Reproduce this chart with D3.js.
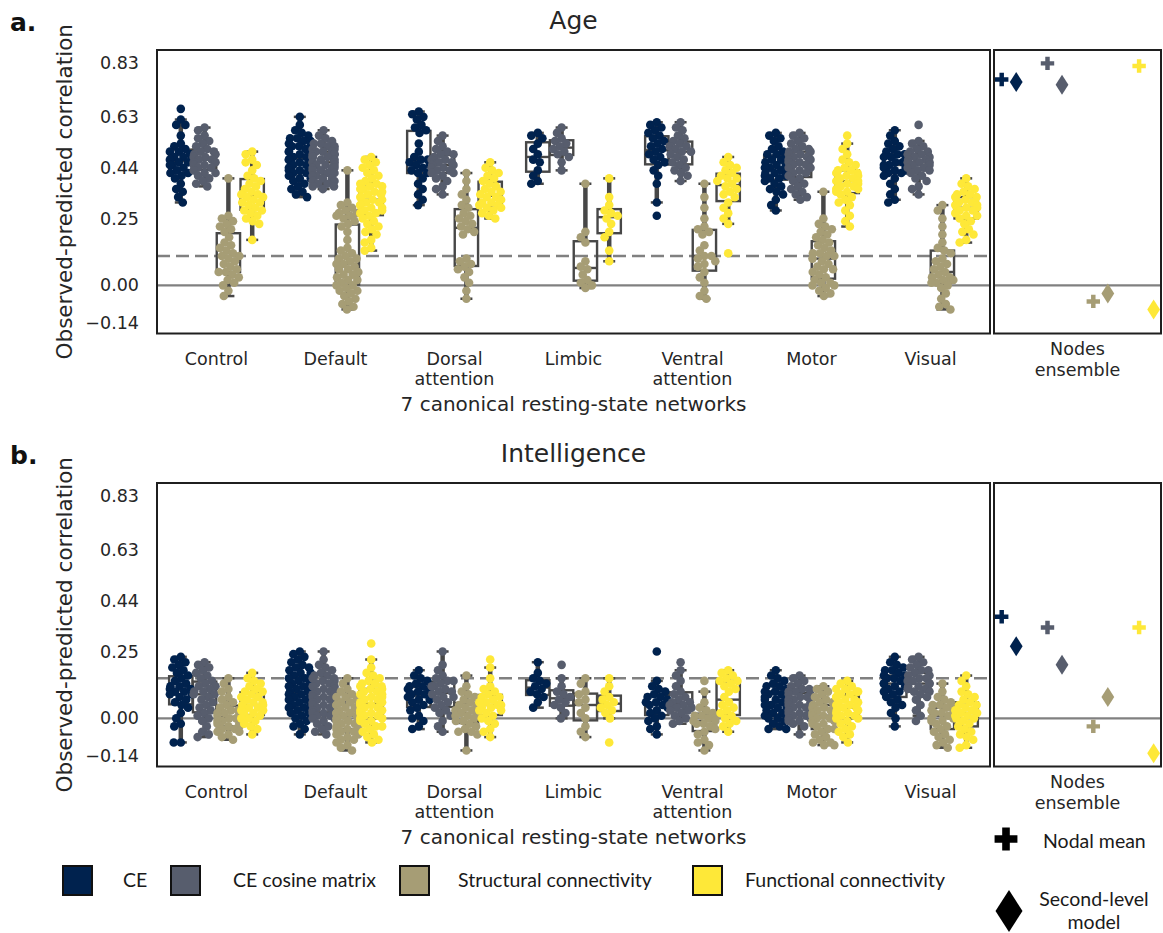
<!DOCTYPE html>
<html>
<head>
<meta charset="utf-8">
<script src="https://cdn.jsdelivr.net/npm/d3@7"></script>
<style>
  body { margin: 0; background: #fff; }
  svg { display: block; }
</style>
</head>
<body>
<svg id="chart" width="1163" height="933"></svg>
<script>
// ---------------------------------------------------------------------------
// Categories, feature sets and axis ticks
// ---------------------------------------------------------------------------
const networks = ["Control", "Default", "Dorsal attention", "Limbic", "Ventral attention", "Motor", "Visual"];
const networkLabelLines = [["Control"], ["Default"], ["Dorsal", "attention"], ["Limbic"], ["Ventral", "attention"], ["Motor"], ["Visual"]];
const features = ["CE", "CE cosine matrix", "Structural connectivity", "Functional connectivity"];
const featureColors = ["#00224e", "#575d6d", "#a69d75", "#fee838"];
const yTicks = [-0.14, 0.00, 0.25, 0.44, 0.63, 0.83];
const panelTitles = ["Age", "Intelligence"];
const panelLetters = ["a.", "b."];
const significanceLevels = [0.11, 0.15];

// ---------------------------------------------------------------------------
// Node-level observed-predicted correlations, Age (order: CE, cosine, SC, FC)
// ---------------------------------------------------------------------------
const ageControl = [
  [0.66, 0.62, 0.60, 0.60, 0.56, 0.53, 0.52, 0.51, 0.50, 0.50, 0.49, 0.48, 0.48, 0.47, 0.47, 0.46, 0.46, 0.45, 0.45, 0.44, 0.43, 0.42, 0.42, 0.41, 0.40, 0.38, 0.36, 0.35, 0.33, 0.31],
  [0.59, 0.58, 0.56, 0.55, 0.54, 0.53, 0.52, 0.51, 0.50, 0.50, 0.49, 0.49, 0.48, 0.48, 0.47, 0.47, 0.46, 0.46, 0.45, 0.45, 0.44, 0.44, 0.43, 0.42, 0.42, 0.41, 0.40, 0.39, 0.38, 0.37],
  [0.40, 0.26, 0.25, 0.24, 0.23, 0.22, 0.21, 0.20, 0.18, 0.16, 0.15, 0.14, 0.13, 0.12, 0.11, 0.11, 0.10, 0.09, 0.08, 0.07, 0.06, 0.05, 0.05, 0.04, 0.03, 0.02, 0.01, 0.00, -0.02, -0.04],
  [0.50, 0.49, 0.47, 0.46, 0.45, 0.43, 0.41, 0.40, 0.39, 0.38, 0.37, 0.36, 0.35, 0.34, 0.34, 0.33, 0.33, 0.32, 0.31, 0.31, 0.30, 0.29, 0.28, 0.28, 0.27, 0.26, 0.25, 0.24, 0.23, 0.17]
];
const ageDefault = [
  [0.63, 0.60, 0.58, 0.57, 0.56, 0.55, 0.55, 0.54, 0.54, 0.53, 0.53, 0.52, 0.52, 0.51, 0.51, 0.50, 0.50, 0.50, 0.49, 0.49, 0.48, 0.48, 0.48, 0.47, 0.47, 0.46, 0.46, 0.46, 0.45, 0.45, 0.44, 0.44, 0.43, 0.43, 0.42, 0.42, 0.41, 0.40, 0.40, 0.39, 0.38, 0.37, 0.36, 0.35, 0.34, 0.33],
  [0.58, 0.56, 0.55, 0.54, 0.53, 0.53, 0.52, 0.52, 0.51, 0.51, 0.50, 0.50, 0.50, 0.49, 0.49, 0.49, 0.48, 0.48, 0.48, 0.47, 0.47, 0.47, 0.46, 0.46, 0.46, 0.45, 0.45, 0.45, 0.44, 0.44, 0.44, 0.43, 0.43, 0.42, 0.42, 0.41, 0.41, 0.40, 0.40, 0.39, 0.39, 0.38, 0.38, 0.37, 0.37, 0.36],
  [0.43, 0.31, 0.30, 0.29, 0.28, 0.27, 0.27, 0.26, 0.26, 0.25, 0.24, 0.23, 0.22, 0.20, 0.17, 0.14, 0.13, 0.12, 0.11, 0.10, 0.10, 0.09, 0.08, 0.08, 0.07, 0.06, 0.06, 0.05, 0.04, 0.04, 0.03, 0.02, 0.02, 0.01, 0.00, 0.00, -0.01, -0.02, -0.02, -0.03, -0.04, -0.05, -0.06, -0.07, -0.08, -0.09],
  [0.48, 0.47, 0.46, 0.45, 0.44, 0.43, 0.42, 0.41, 0.40, 0.39, 0.38, 0.38, 0.37, 0.37, 0.36, 0.36, 0.35, 0.35, 0.34, 0.34, 0.33, 0.33, 0.32, 0.32, 0.31, 0.31, 0.30, 0.30, 0.29, 0.29, 0.28, 0.28, 0.27, 0.27, 0.26, 0.25, 0.24, 0.23, 0.22, 0.21, 0.20, 0.19, 0.17, 0.16, 0.14, 0.13]
];
const ageDorsal = [
  [0.65, 0.64, 0.63, 0.62, 0.60, 0.59, 0.58, 0.57, 0.53, 0.50, 0.48, 0.47, 0.47, 0.46, 0.45, 0.45, 0.44, 0.43, 0.42, 0.42, 0.40, 0.38, 0.36, 0.34, 0.32, 0.30],
  [0.56, 0.54, 0.52, 0.51, 0.50, 0.49, 0.49, 0.48, 0.47, 0.47, 0.46, 0.46, 0.45, 0.45, 0.44, 0.44, 0.43, 0.43, 0.42, 0.42, 0.41, 0.40, 0.39, 0.37, 0.36, 0.34],
  [0.42, 0.39, 0.36, 0.34, 0.32, 0.30, 0.29, 0.27, 0.26, 0.25, 0.24, 0.23, 0.22, 0.21, 0.20, 0.19, 0.10, 0.09, 0.08, 0.07, 0.06, 0.05, 0.03, 0.01, -0.02, -0.05],
  [0.46, 0.44, 0.43, 0.42, 0.41, 0.40, 0.39, 0.38, 0.37, 0.36, 0.35, 0.35, 0.34, 0.33, 0.33, 0.32, 0.31, 0.31, 0.30, 0.30, 0.29, 0.29, 0.28, 0.27, 0.26, 0.25]
];
const ageLimbic = [
  [0.57, 0.56, 0.55, 0.53, 0.51, 0.49, 0.47, 0.46, 0.43, 0.41, 0.39, 0.38],
  [0.59, 0.57, 0.55, 0.54, 0.53, 0.52, 0.51, 0.50, 0.49, 0.48, 0.46, 0.43],
  [0.38, 0.20, 0.18, 0.16, 0.09, 0.07, 0.06, 0.04, 0.02, 0.01, 0.00, -0.01],
  [0.40, 0.33, 0.30, 0.28, 0.27, 0.26, 0.25, 0.23, 0.20, 0.18, 0.13, 0.09]
];
const ageVentral = [
  [0.61, 0.60, 0.59, 0.58, 0.57, 0.56, 0.55, 0.54, 0.53, 0.52, 0.51, 0.50, 0.49, 0.48, 0.47, 0.46, 0.45, 0.43, 0.41, 0.38, 0.31, 0.26],
  [0.61, 0.59, 0.58, 0.56, 0.55, 0.54, 0.53, 0.52, 0.52, 0.51, 0.50, 0.50, 0.49, 0.48, 0.47, 0.46, 0.45, 0.44, 0.43, 0.42, 0.41, 0.39],
  [0.38, 0.33, 0.29, 0.25, 0.22, 0.21, 0.20, 0.19, 0.15, 0.13, 0.11, 0.11, 0.10, 0.09, 0.08, 0.07, 0.05, 0.03, 0.01, -0.02, -0.04, -0.05],
  [0.48, 0.46, 0.45, 0.44, 0.43, 0.42, 0.41, 0.40, 0.40, 0.39, 0.38, 0.37, 0.36, 0.35, 0.34, 0.33, 0.31, 0.29, 0.27, 0.25, 0.23, 0.12]
];
const ageMotor = [
  [0.57, 0.56, 0.55, 0.54, 0.52, 0.51, 0.50, 0.49, 0.49, 0.48, 0.47, 0.47, 0.46, 0.46, 0.45, 0.45, 0.44, 0.44, 0.43, 0.43, 0.42, 0.42, 0.41, 0.41, 0.40, 0.40, 0.39, 0.38, 0.37, 0.36, 0.35, 0.34, 0.32, 0.30, 0.28],
  [0.57, 0.56, 0.55, 0.54, 0.53, 0.52, 0.51, 0.51, 0.50, 0.50, 0.49, 0.49, 0.48, 0.48, 0.47, 0.47, 0.46, 0.46, 0.45, 0.45, 0.44, 0.44, 0.43, 0.42, 0.42, 0.41, 0.40, 0.39, 0.38, 0.37, 0.36, 0.35, 0.34, 0.33, 0.32],
  [0.35, 0.25, 0.23, 0.22, 0.21, 0.20, 0.19, 0.18, 0.17, 0.16, 0.15, 0.14, 0.13, 0.12, 0.12, 0.11, 0.11, 0.10, 0.09, 0.08, 0.07, 0.06, 0.06, 0.05, 0.04, 0.03, 0.02, 0.01, 0.01, 0.00, 0.00, -0.01, -0.02, -0.03, -0.04],
  [0.56, 0.53, 0.51, 0.49, 0.47, 0.46, 0.45, 0.44, 0.43, 0.43, 0.42, 0.42, 0.41, 0.41, 0.40, 0.40, 0.39, 0.39, 0.38, 0.38, 0.37, 0.37, 0.36, 0.36, 0.35, 0.35, 0.34, 0.33, 0.32, 0.31, 0.30, 0.28, 0.26, 0.24, 0.22]
];
const ageVisual = [
  [0.58, 0.56, 0.54, 0.53, 0.52, 0.51, 0.50, 0.49, 0.49, 0.48, 0.48, 0.47, 0.46, 0.46, 0.45, 0.45, 0.44, 0.44, 0.43, 0.43, 0.42, 0.42, 0.41, 0.40, 0.38, 0.36, 0.34, 0.32, 0.31],
  [0.60, 0.54, 0.53, 0.52, 0.51, 0.50, 0.50, 0.49, 0.49, 0.48, 0.48, 0.47, 0.47, 0.46, 0.46, 0.46, 0.45, 0.45, 0.44, 0.44, 0.43, 0.43, 0.42, 0.41, 0.40, 0.39, 0.37, 0.36, 0.34],
  [0.30, 0.28, 0.25, 0.22, 0.19, 0.16, 0.14, 0.13, 0.12, 0.10, 0.09, 0.08, 0.07, 0.06, 0.05, 0.04, 0.03, 0.03, 0.02, 0.02, 0.01, 0.01, 0.00, -0.01, -0.03, -0.05, -0.07, -0.08, -0.09],
  [0.40, 0.38, 0.37, 0.36, 0.35, 0.34, 0.34, 0.33, 0.33, 0.32, 0.31, 0.31, 0.30, 0.30, 0.29, 0.29, 0.28, 0.28, 0.27, 0.26, 0.26, 0.25, 0.24, 0.23, 0.21, 0.20, 0.19, 0.17, 0.16]
];

// ---------------------------------------------------------------------------
// Node-level observed-predicted correlations, Intelligence
// ---------------------------------------------------------------------------
const iqControl = [
  [0.23, 0.22, 0.21, 0.20, 0.19, 0.18, 0.17, 0.16, 0.15, 0.14, 0.13, 0.12, 0.12, 0.11, 0.11, 0.10, 0.10, 0.09, 0.09, 0.08, 0.07, 0.06, 0.05, 0.04, 0.02, 0.00, -0.02, -0.03, -0.09, -0.09],
  [0.21, 0.20, 0.19, 0.18, 0.17, 0.16, 0.15, 0.14, 0.13, 0.12, 0.12, 0.11, 0.10, 0.10, 0.09, 0.09, 0.08, 0.07, 0.06, 0.05, 0.04, 0.03, 0.02, 0.01, 0.00, -0.01, -0.03, -0.05, -0.06, -0.07],
  [0.15, 0.13, 0.11, 0.10, 0.08, 0.07, 0.06, 0.05, 0.04, 0.03, 0.03, 0.02, 0.02, 0.01, 0.01, 0.00, 0.00, -0.01, -0.01, -0.02, -0.02, -0.03, -0.03, -0.04, -0.04, -0.05, -0.05, -0.06, -0.07, -0.08],
  [0.17, 0.15, 0.14, 0.13, 0.12, 0.11, 0.10, 0.10, 0.09, 0.08, 0.08, 0.07, 0.06, 0.06, 0.05, 0.05, 0.04, 0.04, 0.03, 0.03, 0.02, 0.02, 0.01, 0.00, 0.00, -0.01, -0.02, -0.03, -0.04, -0.06]
];
const iqDefault = [
  [0.25, 0.24, 0.23, 0.22, 0.21, 0.20, 0.19, 0.19, 0.18, 0.17, 0.17, 0.16, 0.15, 0.15, 0.14, 0.13, 0.13, 0.12, 0.12, 0.11, 0.11, 0.10, 0.10, 0.09, 0.09, 0.08, 0.08, 0.07, 0.07, 0.06, 0.06, 0.05, 0.05, 0.04, 0.04, 0.03, 0.03, 0.02, 0.02, 0.01, 0.00, -0.01, -0.02, -0.03, -0.04, -0.06],
  [0.25, 0.22, 0.20, 0.19, 0.18, 0.17, 0.16, 0.16, 0.15, 0.15, 0.14, 0.14, 0.13, 0.13, 0.12, 0.12, 0.11, 0.11, 0.10, 0.10, 0.09, 0.09, 0.08, 0.08, 0.07, 0.07, 0.06, 0.06, 0.05, 0.05, 0.04, 0.04, 0.03, 0.03, 0.02, 0.02, 0.01, 0.01, 0.00, 0.00, -0.01, -0.02, -0.03, -0.04, -0.05, -0.06],
  [0.15, 0.13, 0.11, 0.10, 0.09, 0.08, 0.08, 0.07, 0.07, 0.06, 0.06, 0.05, 0.05, 0.04, 0.04, 0.03, 0.03, 0.03, 0.02, 0.02, 0.02, 0.01, 0.01, 0.01, 0.00, 0.00, 0.00, -0.01, -0.01, -0.02, -0.02, -0.03, -0.03, -0.04, -0.04, -0.05, -0.05, -0.06, -0.06, -0.07, -0.08, -0.08, -0.09, -0.10, -0.11, -0.12],
  [0.28, 0.22, 0.19, 0.17, 0.16, 0.15, 0.14, 0.13, 0.13, 0.12, 0.12, 0.11, 0.11, 0.10, 0.10, 0.09, 0.09, 0.08, 0.08, 0.07, 0.07, 0.06, 0.06, 0.05, 0.05, 0.04, 0.04, 0.03, 0.03, 0.02, 0.02, 0.01, 0.01, 0.00, 0.00, -0.01, -0.01, -0.02, -0.03, -0.03, -0.04, -0.05, -0.06, -0.07, -0.08, -0.09]
];
const iqDorsal = [
  [0.18, 0.16, 0.15, 0.14, 0.13, 0.12, 0.12, 0.11, 0.11, 0.10, 0.10, 0.09, 0.09, 0.08, 0.08, 0.07, 0.07, 0.06, 0.05, 0.04, 0.03, 0.01, 0.00, -0.01, -0.03, -0.04],
  [0.25, 0.20, 0.18, 0.16, 0.15, 0.14, 0.14, 0.13, 0.12, 0.12, 0.11, 0.10, 0.10, 0.09, 0.08, 0.08, 0.07, 0.06, 0.05, 0.04, 0.03, 0.02, 0.01, -0.01, -0.03, -0.05],
  [0.16, 0.12, 0.10, 0.09, 0.08, 0.07, 0.06, 0.05, 0.05, 0.04, 0.03, 0.03, 0.02, 0.02, 0.01, 0.01, 0.00, -0.01, -0.01, -0.02, -0.03, -0.04, -0.05, -0.05, -0.06, -0.12],
  [0.22, 0.19, 0.15, 0.12, 0.11, 0.10, 0.09, 0.08, 0.08, 0.07, 0.06, 0.06, 0.05, 0.05, 0.04, 0.04, 0.03, 0.03, 0.02, 0.01, 0.00, -0.01, -0.02, -0.04, -0.05, -0.07]
];
const iqLimbic = [
  [0.21, 0.17, 0.15, 0.14, 0.13, 0.12, 0.11, 0.10, 0.09, 0.08, 0.06, 0.04],
  [0.20, 0.15, 0.12, 0.10, 0.09, 0.08, 0.07, 0.06, 0.05, 0.04, 0.02, 0.00],
  [0.15, 0.13, 0.10, 0.09, 0.07, 0.06, 0.04, 0.02, 0.00, -0.03, -0.05, -0.07],
  [0.15, 0.12, 0.10, 0.08, 0.07, 0.06, 0.05, 0.04, 0.03, 0.02, 0.00, -0.09]
];
const iqVentral = [
  [0.25, 0.14, 0.12, 0.11, 0.10, 0.09, 0.08, 0.08, 0.07, 0.06, 0.06, 0.05, 0.05, 0.04, 0.03, 0.02, 0.01, 0.00, -0.01, -0.03, -0.04, -0.06],
  [0.21, 0.18, 0.16, 0.14, 0.12, 0.10, 0.09, 0.08, 0.07, 0.06, 0.06, 0.05, 0.05, 0.04, 0.04, 0.03, 0.03, 0.02, 0.01, 0.00, -0.01, -0.02],
  [0.14, 0.10, 0.06, 0.04, 0.03, 0.02, 0.01, 0.01, 0.00, 0.00, -0.01, -0.01, -0.02, -0.02, -0.03, -0.04, -0.05, -0.06, -0.08, -0.09, -0.10, -0.12],
  [0.18, 0.17, 0.16, 0.15, 0.14, 0.14, 0.13, 0.12, 0.11, 0.10, 0.08, 0.06, 0.05, 0.04, 0.03, 0.02, 0.01, 0.00, -0.01, -0.02, -0.03, -0.05]
];
const iqMotor = [
  [0.18, 0.16, 0.15, 0.14, 0.13, 0.12, 0.12, 0.11, 0.10, 0.10, 0.09, 0.09, 0.08, 0.08, 0.07, 0.07, 0.06, 0.06, 0.05, 0.05, 0.04, 0.04, 0.03, 0.03, 0.02, 0.02, 0.01, 0.01, 0.00, 0.00, -0.01, -0.02, -0.03, -0.04, -0.04],
  [0.16, 0.15, 0.14, 0.13, 0.12, 0.11, 0.11, 0.10, 0.10, 0.09, 0.09, 0.08, 0.08, 0.07, 0.07, 0.06, 0.06, 0.05, 0.05, 0.05, 0.04, 0.04, 0.03, 0.03, 0.02, 0.02, 0.01, 0.01, 0.00, 0.00, -0.01, -0.01, -0.02, -0.03, -0.06],
  [0.12, 0.11, 0.10, 0.09, 0.08, 0.07, 0.06, 0.06, 0.05, 0.05, 0.04, 0.04, 0.03, 0.03, 0.02, 0.02, 0.01, 0.01, 0.00, 0.00, -0.01, -0.01, -0.02, -0.02, -0.03, -0.04, -0.04, -0.05, -0.06, -0.07, -0.08, -0.09, -0.09, -0.10, -0.10],
  [0.14, 0.13, 0.12, 0.11, 0.11, 0.10, 0.10, 0.09, 0.09, 0.08, 0.08, 0.07, 0.07, 0.06, 0.06, 0.05, 0.05, 0.04, 0.04, 0.03, 0.03, 0.02, 0.02, 0.01, 0.01, 0.00, 0.00, -0.01, -0.02, -0.03, -0.04, -0.05, -0.06, -0.07, -0.09]
];
const iqVisual = [
  [0.23, 0.21, 0.20, 0.19, 0.18, 0.18, 0.17, 0.16, 0.16, 0.15, 0.15, 0.14, 0.14, 0.13, 0.13, 0.12, 0.12, 0.11, 0.10, 0.10, 0.09, 0.08, 0.07, 0.06, 0.05, 0.04, 0.02, 0.00, -0.03],
  [0.23, 0.22, 0.21, 0.20, 0.19, 0.18, 0.18, 0.17, 0.16, 0.16, 0.15, 0.15, 0.14, 0.14, 0.13, 0.13, 0.12, 0.12, 0.11, 0.11, 0.10, 0.10, 0.09, 0.08, 0.07, 0.05, 0.03, 0.01, -0.01],
  [0.13, 0.10, 0.08, 0.07, 0.06, 0.05, 0.05, 0.04, 0.04, 0.03, 0.03, 0.02, 0.02, 0.01, 0.01, 0.00, 0.00, -0.01, -0.01, -0.02, -0.03, -0.04, -0.05, -0.06, -0.07, -0.08, -0.09, -0.10, -0.11],
  [0.16, 0.14, 0.12, 0.10, 0.09, 0.08, 0.07, 0.06, 0.05, 0.05, 0.04, 0.03, 0.03, 0.02, 0.02, 0.01, 0.01, 0.00, 0.00, -0.01, -0.02, -0.03, -0.04, -0.05, -0.06, -0.07, -0.08, -0.10, -0.11]
];

// ---------------------------------------------------------------------------
// Whole-brain ensembles (order: CE, cosine, SC, FC)
// ---------------------------------------------------------------------------
const ageNodalMean = [0.77, 0.83, -0.06, 0.82];
const ageSecondLevel = [0.76, 0.75, -0.03, -0.09];
const iqNodalMean = [0.38, 0.34, -0.03, 0.34];
const iqSecondLevel = [0.27, 0.20, 0.08, -0.13];

const ageGroups = [ageControl, ageDefault, ageDorsal, ageLimbic, ageVentral, ageMotor, ageVisual];
const iqGroups = [iqControl, iqDefault, iqDorsal, iqLimbic, iqVentral, iqMotor, iqVisual];
const panelGroups = [ageGroups, iqGroups];
const panelNodal = [ageNodalMean, iqNodalMean];
const panelSecond = [ageSecondLevel, iqSecondLevel];

// ---------------------------------------------------------------------------
// Layout
// ---------------------------------------------------------------------------
const svg = d3.select("#chart");
const mainLeft = 157, mainRight = 990;
const ensLeft = 994, ensRight = 1161;
const panelTop = [50, 483];
const panelHeight = 283.5;
const yDomain = [-0.18, 0.88];
const tickFont = "DejaVu Sans, Verdana, sans-serif";
const textColor = "#262626";
const dotRadius = 4.3;

const xNet = d3.scaleBand().domain(networks).range([mainLeft, mainRight]).paddingInner(0).paddingOuter(0);
const xHue = d3.scaleBand().domain(features).range([0, xNet.bandwidth() * 0.8]);
const xEns = d3.scaleLinear().domain([-0.168, 3.478]).range([ensLeft, ensRight]);

// Beeswarm: place each point at the free slot nearest to the centre line
function swarmOffsets(ys, r, half) {
  const order = d3.range(ys.length).sort((a, b) => ys[a] - ys[b]);
  const placed = [];
  const off = new Array(ys.length);
  const d = 2 * r;
  for (const i of order) {
    const y = ys[i];
    const near = placed.filter(p => Math.abs(p.y - y) < d);
    const cands = [0];
    for (const p of near) {
      const dx = Math.sqrt(d * d - (p.y - y) ** 2);
      cands.push(p.x + dx, p.x - dx);
    }
    cands.sort((a, b) => Math.abs(a) - Math.abs(b) || a - b);
    const x = cands.find(c => near.every(p => (p.x - c) ** 2 + (p.y - y) ** 2 >= d * d - 1e-6));
    placed.push({ x, y });
    off[i] = Math.max(-half, Math.min(half, x));
  }
  return off;
}

function boxStats(values) {
  const s = values.slice().sort(d3.ascending);
  const q1 = d3.quantile(s, 0.25), med = d3.quantile(s, 0.5), q3 = d3.quantile(s, 0.75);
  const iqr = q3 - q1;
  const lo = d3.min(s.filter(v => v >= q1 - 1.5 * iqr));
  const hi = d3.max(s.filter(v => v <= q3 + 1.5 * iqr));
  return { q1, med, q3, lo, hi };
}

panelGroups.forEach((groups, p) => {
  const top = panelTop[p];
  const y = d3.scaleLinear().domain(yDomain).range([top + panelHeight, top]);
  const g = svg.append("g");

  // panel letter and title
  g.append("text").attr("x", 10).attr("y", top - 19)
    .attr("font-family", "DejaVu Sans, sans-serif").attr("font-weight", 900)
    .attr("font-size", 25).attr("fill", "#111").text(panelLetters[p]);
  g.append("text").attr("x", (mainLeft + mainRight) / 2).attr("y", top - 21)
    .attr("text-anchor", "middle").attr("font-family", tickFont)
    .attr("font-size", 25).attr("fill", textColor).text(panelTitles[p]);

  // reference lines
  g.append("line").attr("x1", mainLeft).attr("x2", mainRight)
    .attr("y1", y(significanceLevels[p])).attr("y2", y(significanceLevels[p]))
    .attr("stroke", "#808080").attr("stroke-width", 2.4).attr("stroke-dasharray", "13,6");
  [[mainLeft, mainRight], [ensLeft, ensRight]].forEach(([a, b]) => {
    g.append("line").attr("x1", a).attr("x2", b).attr("y1", y(0)).attr("y2", y(0))
      .attr("stroke", "#808080").attr("stroke-width", 2.2);
  });

  // y axis (labels only)
  const yAxis = d3.axisLeft(y).tickValues(yTicks).tickSize(0).tickPadding(0)
    .tickFormat(d => d3.format(".2f")(d).replace("-", "\u2212"));
  const ax = g.append("g").attr("transform", `translate(${mainLeft - 18},0)`).call(yAxis);
  ax.select(".domain").remove();
  ax.selectAll("text").attr("font-family", tickFont).attr("font-size", 17.5).attr("fill", textColor);

  g.append("text")
    .attr("transform", `translate(72,${top + panelHeight / 2}) rotate(-90)`)
    .attr("text-anchor", "middle").attr("font-family", tickFont).attr("font-size", 21.5)
    .attr("fill", textColor).text("Observed-predicted correlation");

  // boxes, whiskers, then the swarm of node values
  const boxW = xHue.bandwidth() * 0.98;
  const boxLayer = g.append("g");
  const dotLayer = g.append("g");
  groups.forEach((featVals, n) => {
    featVals.forEach((vals, h) => {
      const cx = xNet(networks[n]) + xNet.bandwidth() * 0.1 + xHue(features[h]) + xHue.bandwidth() / 2;
      const st = boxStats(vals);
      const bg = boxLayer.append("g");
      bg.append("line").attr("x1", cx).attr("x2", cx).attr("y1", y(st.hi)).attr("y2", y(st.q3))
        .attr("stroke", "#474747").attr("stroke-width", 4.5);
      bg.append("line").attr("x1", cx).attr("x2", cx).attr("y1", y(st.q1)).attr("y2", y(st.lo))
        .attr("stroke", "#474747").attr("stroke-width", 4.5);
      [st.hi, st.lo].forEach(v => bg.append("line").attr("x1", cx - 6).attr("x2", cx + 6)
        .attr("y1", y(v)).attr("y2", y(v)).attr("stroke", "#474747").attr("stroke-width", 2.5));
      bg.append("rect").attr("x", cx - boxW / 2).attr("width", boxW)
        .attr("y", y(st.q3)).attr("height", Math.max(0, y(st.q1) - y(st.q3)))
        .attr("fill", "none").attr("stroke", "#474747").attr("stroke-width", 2.4);
      bg.append("line").attr("x1", cx - boxW / 2).attr("x2", cx + boxW / 2)
        .attr("y1", y(st.med)).attr("y2", y(st.med)).attr("stroke", "#474747").attr("stroke-width", 2.4);

      const ys = vals.map(v => y(v));
      const offs = swarmOffsets(ys, dotRadius * 0.82, xHue.bandwidth() / 2 - 1);
      dotLayer.selectAll(null).data(vals).join("circle")
        .attr("cx", (d, i) => cx + offs[i]).attr("cy", d => y(d))
        .attr("r", dotRadius).attr("fill", featureColors[h]);
    });
  });

  // network labels
  networkLabelLines.forEach((lines, n) => {
    const t = g.append("text").attr("x", xNet(networks[n]) + xNet.bandwidth() / 2)
      .attr("y", top + 315).attr("text-anchor", "middle")
      .attr("font-family", tickFont).attr("font-size", 17.5).attr("fill", textColor);
    lines.forEach((ln, k) => t.append("tspan").attr("x", xNet(networks[n]) + xNet.bandwidth() / 2)
      .attr("dy", k === 0 ? 0 : 20).text(ln));
  });
  g.append("text").attr("x", (mainLeft + mainRight) / 2).attr("y", top + 361)
    .attr("text-anchor", "middle").attr("font-family", tickFont).attr("font-size", 20)
    .attr("fill", textColor).text("7 canonical resting-state networks");
  const ne = g.append("text").attr("x", (ensLeft + ensRight) / 2).attr("y", top + 305)
    .attr("text-anchor", "middle").attr("font-family", tickFont).attr("font-size", 17.5)
    .attr("fill", textColor);
  ne.append("tspan").attr("x", (ensLeft + ensRight) / 2).text("Nodes");
  ne.append("tspan").attr("x", (ensLeft + ensRight) / 2).attr("dy", 21).text("ensemble");

  // ensemble markers
  const crossPath = d3.symbol().type(d3.symbolCross).size(100)();
  const diamondPath = `M0,-10L6.4,0L0,10L-6.4,0Z`;
  panelNodal[p].forEach((v, h) => {
    g.append("path").attr("d", crossPath)
      .attr("transform", `translate(${xEns(h)},${y(v)})`).attr("fill", featureColors[h]);
  });
  panelSecond[p].forEach((v, h) => {
    g.append("path").attr("d", diamondPath)
      .attr("transform", `translate(${xEns(h + 0.317)},${y(v)})`).attr("fill", featureColors[h]);
  });

  // frames
  g.append("rect").attr("x", mainLeft).attr("y", top).attr("width", mainRight - mainLeft)
    .attr("height", panelHeight).attr("fill", "none").attr("stroke", "#1f1f1f").attr("stroke-width", 2);
  g.append("rect").attr("x", ensLeft).attr("y", top).attr("width", ensRight - ensLeft)
    .attr("height", panelHeight).attr("fill", "none").attr("stroke", "#1f1f1f").attr("stroke-width", 2);
});

// ---------------------------------------------------------------------------
// Legends
// ---------------------------------------------------------------------------
const legendFont = "Lato, 'Open Sans', sans-serif";
const legendSquareX = [63, 171, 400, 693];
const legendTextX = [123, 233, 458, 745];
const leg = svg.append("g");
features.forEach((f, i) => {
  leg.append("rect").attr("x", legendSquareX[i]).attr("y", 866).attr("width", 29).attr("height", 29)
    .attr("fill", featureColors[i]).attr("stroke", "#111").attr("stroke-width", 2);
  leg.append("text").attr("x", legendTextX[i]).attr("y", 887).attr("font-family", legendFont)
    .attr("font-size", 19.5).attr("fill", "#1a1a1a").text(f);
});
leg.append("path").attr("d", d3.symbol().type(d3.symbolCross).size(290)())
  .attr("transform", "translate(1006,839)").attr("fill", "#000");
leg.append("text").attr("x", 1043).attr("y", 848).attr("font-family", legendFont)
  .attr("font-size", 19.5).attr("fill", "#1a1a1a").text("Nodal mean");
leg.append("path").attr("d", "M0,-21L13.5,0L0,21L-13.5,0Z")
  .attr("transform", "translate(1009,911)").attr("fill", "#000");
const sl = leg.append("text").attr("text-anchor", "middle").attr("font-family", legendFont)
  .attr("font-size", 19.5).attr("fill", "#1a1a1a");
sl.append("tspan").attr("x", 1094).attr("y", 906).text("Second-level");
sl.append("tspan").attr("x", 1094).attr("y", 929).text("model");
</script>
</body>
</html>
